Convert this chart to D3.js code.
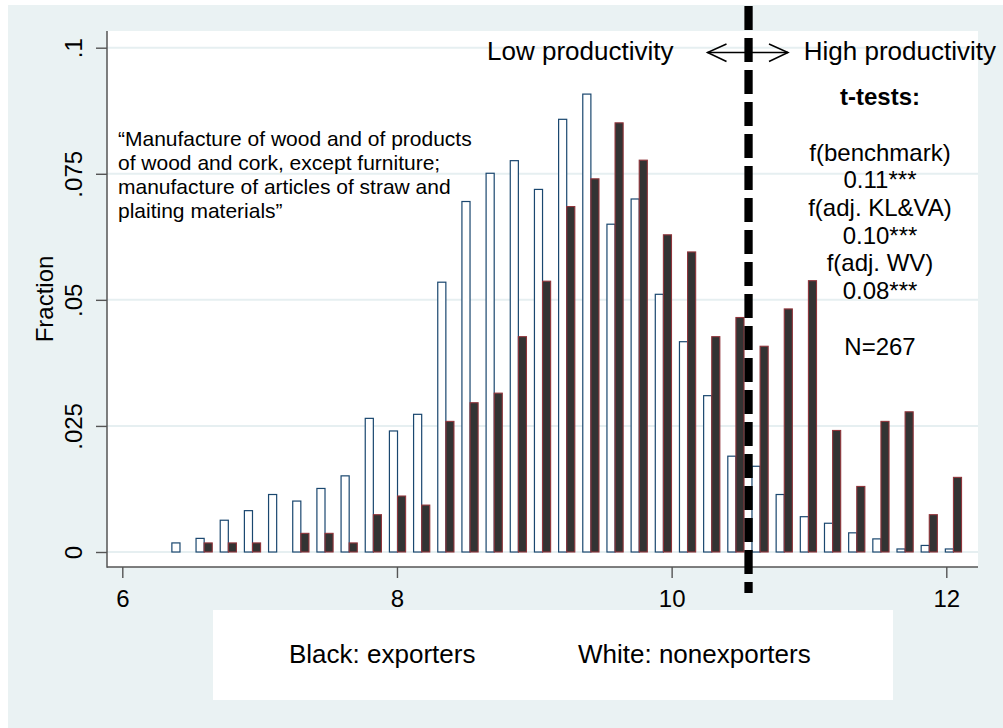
<!DOCTYPE html>
<html>
<head>
<meta charset="utf-8">
<script src="https://cdn.jsdelivr.net/npm/d3@7"></script>
<style>
  html, body { margin: 0; padding: 0; background: #ffffff; }
  svg { display: block; }
  text { font-family: "Liberation Sans", Arial, Helvetica, sans-serif; fill: #000; }
</style>
</head>
<body>
<svg id="chart" width="1003" height="728"></svg>
<script>
// Bin midpoints of log productivity
const binMid = [6.420, 6.596, 6.772, 6.948, 7.124, 7.300, 7.476, 7.652, 7.828, 8.004,
                8.180, 8.356, 8.532, 8.708, 8.884, 9.060, 9.236, 9.412, 9.588, 9.764,
                9.940, 10.116, 10.292, 10.468, 10.644, 10.820, 10.996, 11.172, 11.348, 11.524,
                11.700, 11.876, 12.052];

// Fraction of firms per bin: exporters (black) and nonexporters (white)
const exporters = [0, 0.0018, 0.0018, 0.0018, 0, 0.0037, 0.0037, 0.0018, 0.0074, 0.0111,
                   0.0093, 0.0259, 0.0296, 0.0315, 0.0427, 0.0537, 0.0685, 0.0740, 0.0851, 0.0777,
                   0.0629, 0.0595, 0.0427, 0.0465, 0.0408, 0.0482, 0.0538, 0.0241, 0.0130, 0.0259,
                   0.0278, 0.0074, 0.0148];
const nonexporters = [0.0018, 0.0027, 0.0063, 0.0082, 0.0114, 0.0101, 0.0126, 0.0151, 0.0265, 0.0240,
                      0.0273, 0.0535, 0.0695, 0.0751, 0.0776, 0.0719, 0.0858, 0.0908, 0.0650, 0.0700,
                      0.0511, 0.0417, 0.0310, 0.0190, 0.0170, 0.0114, 0.0070, 0.0057, 0.0038, 0.0026,
                      0.0006, 0.0013, 0.0006];

const xTicks = [6, 8, 10, 12];
const yTicks = [0, 0.025, 0.05, 0.075, 0.1];
const yTickLabels = ["0", ".025", ".05", ".075", ".1"];

const cutoff = 10.56;       // productivity threshold
const barWidth = 0.059;     // width of each bar in x units

const industryNote = [
  "\u201CManufacture of wood and of products",
  "of wood and cork, except furniture;",
  "manufacture of articles of straw and",
  "plaiting materials\u201D"
];
const tTestLines = ["f(benchmark)", "0.11***", "f(adj. KL&VA)", "0.10***", "f(adj. WV)", "0.08***"];

// ---- layout ----
const W = 1003, H = 728;
const plot = { left: 107, right: 978, top: 31, bottom: 567 };

const svg = d3.select("#chart");

// graph background
svg.append("rect").attr("x", 0).attr("y", 0).attr("width", W).attr("height", H).attr("fill", "#ffffff");
svg.append("rect").attr("x", 8).attr("y", 5).attr("width", W - 8).attr("height", H - 5).attr("fill", "#eaf2f3");

// plot region
svg.append("rect")
  .attr("x", plot.left).attr("y", plot.top)
  .attr("width", plot.right - plot.left).attr("height", plot.bottom - plot.top)
  .attr("fill", "#ffffff");

const x = d3.scaleLinear().domain([6, 12]).range([122.3, 946.3]);
const y = d3.scaleLinear().domain([0, 0.1]).range([552, 47.7]);

// gridlines
svg.append("g").selectAll("line").data(yTicks).join("line")
  .attr("x1", plot.left).attr("x2", plot.right)
  .attr("y1", d => y(d)).attr("y2", d => y(d))
  .attr("stroke", "#e6eff1").attr("stroke-width", 2);

// bars
const bins = binMid.map((m, i) => ({ m, exp: exporters[i], non: nonexporters[i] }));

svg.append("g").selectAll("rect").data(bins.filter(d => d.non > 0)).join("rect")
  .attr("x", d => x(d.m - barWidth))
  .attr("y", d => y(d.non))
  .attr("width", d => x(d.m) - x(d.m - barWidth))
  .attr("height", d => y(0) - y(d.non))
  .attr("fill", "#ffffff")
  .attr("stroke", "#1a476f").attr("stroke-width", 1.2);

svg.append("g").selectAll("rect").data(bins.filter(d => d.exp > 0)).join("rect")
  .attr("x", d => x(d.m))
  .attr("y", d => y(d.exp))
  .attr("width", d => x(d.m + barWidth) - x(d.m))
  .attr("height", d => y(0) - y(d.exp))
  .attr("fill", "#333333")
  .attr("stroke", "#90353b").attr("stroke-width", 1.1);

// axes
const yAxis = d3.axisLeft(y).tickValues(yTicks).tickFormat((d, i) => yTickLabels[i]).tickSize(11).tickPadding(0);
const gy = svg.append("g").attr("transform", `translate(${plot.left},0)`).call(yAxis);
gy.select(".domain").remove();
gy.selectAll(".tick line").attr("stroke", "#555").attr("stroke-width", 1.4);
gy.selectAll(".tick text")
  .attr("x", 0).attr("dy", 0)
  .attr("transform", "translate(-25,0) rotate(-90)")
  .attr("text-anchor", "middle")
  .attr("font-size", 24)
  .attr("font-family", "Liberation Sans, Arial, sans-serif");

svg.append("line")
  .attr("x1", plot.left).attr("x2", plot.left)
  .attr("y1", plot.top).attr("y2", plot.bottom + 0.7)
  .attr("stroke", "#555").attr("stroke-width", 1.5);

const xAxis = d3.axisBottom(x).tickValues(xTicks).tickFormat(d3.format("d")).tickSize(11).tickPadding(0);
const gx = svg.append("g").attr("transform", `translate(0,${plot.bottom})`).call(xAxis);
gx.select(".domain").remove();
gx.selectAll(".tick line").attr("stroke", "#555").attr("stroke-width", 1.4);
gx.selectAll(".tick text")
  .attr("y", 40).attr("dy", 0)
  .attr("font-size", 24)
  .attr("font-family", "Liberation Sans, Arial, sans-serif");

svg.append("line")
  .attr("x1", plot.left).attr("x2", plot.right)
  .attr("y1", plot.bottom).attr("y2", plot.bottom)
  .attr("stroke", "#555").attr("stroke-width", 1.5);

// y title
svg.append("text")
  .attr("transform", `translate(53,${(plot.top + plot.bottom) / 2}) rotate(-90)`)
  .attr("text-anchor", "middle")
  .attr("font-size", 24)
  .text("Fraction");

// industry description
svg.append("g").selectAll("text").data(industryNote).join("text")
  .attr("x", 118).attr("y", (d, i) => 145.5 + i * 24)
  .attr("font-size", 21)
  .text(d => d);

// productivity threshold
svg.append("line")
  .attr("x1", x(cutoff)).attr("x2", x(cutoff))
  .attr("y1", 6).attr("y2", 593)
  .attr("stroke", "#000").attr("stroke-width", 8.3)
  .attr("stroke-dasharray", "24 8");

// header labels and double arrow
svg.append("text").attr("x", 487).attr("y", 60).attr("font-size", 26).text("Low productivity");
svg.append("text").attr("x", 996).attr("y", 60).attr("text-anchor", "end").attr("font-size", 26).text("High productivity");

const arrow = svg.append("g").attr("stroke", "#000").attr("stroke-width", 1.5).attr("fill", "none");
arrow.append("line").attr("x1", 707.5).attr("x2", 788).attr("y1", 52.5).attr("y2", 52.5);
arrow.append("path").attr("d", "M726.5,44 L707.5,52.5 L726.5,61.5");
arrow.append("path").attr("d", "M769,44 L788,52.5 L769,61.5");

// t-test block
svg.append("text").attr("x", 880).attr("y", 105).attr("text-anchor", "middle")
  .attr("font-size", 24).attr("font-weight", "bold").text("t-tests:");
svg.append("g").selectAll("text").data(tTestLines).join("text")
  .attr("x", 880).attr("y", (d, i) => 160.5 + i * 27.7)
  .attr("text-anchor", "middle")
  .attr("font-size", 24)
  .text(d => d);
svg.append("text").attr("x", 880).attr("y", 354.5).attr("text-anchor", "middle")
  .attr("font-size", 24).text("N=267");

// legend
svg.append("rect").attr("x", 213).attr("y", 610).attr("width", 680).attr("height", 90).attr("fill", "#ffffff");
svg.append("text").attr("x", 289).attr("y", 663).attr("font-size", 26).text("Black: exporters");
svg.append("text").attr("x", 578).attr("y", 663).attr("font-size", 26).text("White: nonexporters");
</script>
</body>
</html>
